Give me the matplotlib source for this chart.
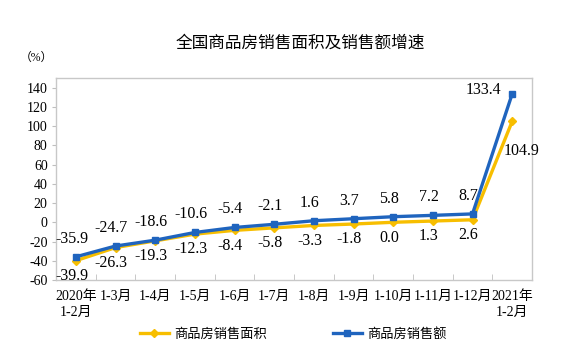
import matplotlib
matplotlib.use("Agg")
import matplotlib.pyplot as plt
import numpy as np

categories = ["2020年\n1-2月", "1-3月", "1-4月", "1-5月", "1-6月", "1-7月", "1-8月",
              "1-9月", "1-10月", "1-11月", "1-12月", "2021年\n1-2月"]
area = [-39.9, -26.3, -19.3, -12.3, -8.4, -5.8, -3.3, -1.8, 0.0, 1.3, 2.6, 104.9]
amount = [-35.9, -24.7, -18.6, -10.6, -5.4, -2.1, 1.6, 3.7, 5.8, 7.2, 8.7, 133.4]
yticks = [-60, -40, -20, 0, 20, 40, 60, 80, 100, 120, 140]

serif = ["Liberation Serif", "Noto Sans CJK SC"]
cjk = ["Noto Sans CJK SC", "DejaVu Sans"]

fig = plt.figure(figsize=(5.86, 3.6), dpi=100)
ax = fig.add_axes([56/586, 1-280/360, 476/586, 202/360])

x = np.arange(len(categories))
yellow = "#F7BE00"
blue = "#1F64BE"
ax.plot(x, area, color=yellow, lw=2.4, marker="D", ms=4.5, zorder=3, label="商品房销售面积")
ax.plot(x, amount, color=blue, lw=2.4, marker="s", ms=4.5, zorder=4, label="商品房销售额")

ax.set_xlim(-0.5, len(categories) - 0.5)
ax.set_ylim(-60, 150)
ax.set_yticks(yticks)
ax.set_yticklabels([str(v) for v in yticks], fontfamily=serif, fontsize=10)
ax.set_xticks(x)
ax.set_xticklabels(categories, fontfamily=serif, fontsize=10, linespacing=1.3)
ax.tick_params(axis="x", length=0, pad=7)
ax.set_xticks(np.arange(len(categories) + 1) - 0.5, minor=True)
ax.tick_params(axis="x", which="minor", direction="in", length=4, color="#BFBFBF")
ax.tick_params(axis="y", direction="out", length=3, color="#BFBFBF", pad=3)
for s in ax.spines.values():
    s.set_color("#C8C8C8")
    s.set_linewidth(1.0)

# data labels
for i, (a, b) in enumerate(zip(area, amount)):
    if i == len(categories) - 1:
        ax.annotate(f"{b:.1f}", (i, b), xytext=(-21, 3), textcoords="offset points",
                    ha="center", va="center", fontsize=11.5, fontfamily=serif)
        ax.annotate(f"{a:.1f}", (i, a), xytext=(7, -21), textcoords="offset points",
                    ha="center", va="center", fontsize=11.5, fontfamily=serif)
    else:
        ax.annotate(f"{b:.1f}", (i, b), xytext=(-3, 13), textcoords="offset points",
                    ha="center", va="center", fontsize=11.5, fontfamily=serif)
        ax.annotate(f"{a:.1f}", (i, a), xytext=(-3, -11), textcoords="offset points",
                    ha="center", va="center", fontsize=11.5, fontfamily=serif)

fig.text(0.512, 1-43/360, "全国商品房销售面积及销售额增速", ha="center", va="center",
         fontsize=12, fontfamily=cjk)
fig.text(36/586, 1-58/360, "（%）", ha="center", va="center", fontsize=8.5, fontfamily=serif)

leg = fig.legend(loc="center", bbox_to_anchor=(0.5, 1-334/360), ncol=2, frameon=False,
                 prop={"family": cjk, "size": 9.5}, columnspacing=5, handlelength=2.2,
                 handletextpad=0.4)

fig.savefig("out.png", dpi=100)
